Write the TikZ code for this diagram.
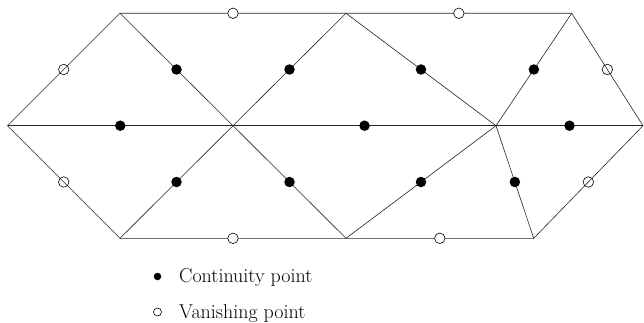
\documentclass[tikz,border=0pt]{standalone}
\usetikzlibrary{calc}
\begin{document}
\begin{tikzpicture}[x=1pt,y=-1pt,
  edge/.style={line width=0.6pt,black!85},
  fdot/.style={circle,fill=black,inner sep=0pt,minimum size=10.5pt},
  odot/.style={circle,draw=black,line width=0.6pt,inner sep=0pt,minimum size=10.5pt},
  wodot/.style={odot,fill=white},
  lfdot/.style={circle,fill=black,inner sep=0pt,minimum size=7.5pt},
  lodot/.style={circle,draw=black,line width=0.6pt,inner sep=0pt,minimum size=8pt},
  ltext/.style={anchor=base west,inner sep=0pt,font=\fontsize{20}{24}\selectfont}]
\useasboundingbox (0,0) rectangle (644,323);
% vertices
\coordinate (L) at (7.5,125.7);
\coordinate (T1) at (120,13.3);
\coordinate (T2) at (346,13.3);
\coordinate (T3) at (571.7,13.3);
\coordinate (R) at (643,125.7);
\coordinate (C1) at (233,125.7);
\coordinate (C2) at (496,125.7);
\coordinate (B1) at (120,238.3);
\coordinate (B2) at (346,238.3);
\coordinate (B3) at (533.7,238.3);
% edges
\draw[edge] (L) -- (T1) -- (T2) -- (T3) -- (R) -- (B3) -- (B2) -- (B1) -- cycle;
\draw[edge] (L) -- (C1) -- (C2) -- (R);
\draw[edge] (T1) -- (C1) -- (B2);
\draw[edge] (T2) -- (C1) -- (B1);
\draw[edge] (T2) -- (C2) -- (B2);
\draw[edge] (T3) -- (C2) -- (B3);
% continuity points
\node[fdot] (f1) at ($(T1)!0.5!(C1)$) {};
\node[fdot] (f2) at ($(T2)!0.5!(C1)$) {};
\node[fdot] (f3) at ($(T2)!0.5!(C2)$) {};
\node[fdot] (f4) at ($(T3)!0.5!(C2)$) {};
\node[fdot] (f5) at ($(L)!0.5!(C1)$) {};
\node[fdot] (f6) at ($(C1)!0.5!(C2)$) {};
\node[fdot] (f7) at ($(C2)!0.5!(R)$) {};
\node[fdot] (f8) at ($(B1)!0.5!(C1)$) {};
\node[fdot] (f9) at ($(B2)!0.5!(C1)$) {};
\node[fdot] (f10) at ($(B2)!0.5!(C2)$) {};
\node[fdot] (f11) at ($(B3)!0.5!(C2)$) {};
% vanishing points
\node[wodot] (o1) at ($(T1)!0.5!(T2)$) {};
\node[wodot] (o2) at ($(T2)!0.5!(T3)$) {};
\node[odot] (o3) at ($(L)!0.5!(T1)$) {};
\node[odot] (o4) at ($(T3)!0.5!(R)$) {};
\node[odot] (o5) at ($(L)!0.5!(B1)$) {};
\node[odot] (o6) at ($(R)!0.5!(B3)$) {};
\node[wodot] (o7) at ($(B1)!0.5!(B2)$) {};
\node[wodot] (o8) at ($(B2)!0.5!(B3)$) {};
% legend
\node[lfdot] (lf) at (157.5,276.5) {};
\node[ltext] (lft) at (179,282.5) {Continuity point};
\node[lodot] (lo) at (157.5,312) {};
\node[ltext] (lot) at (179,318) {Vanishing point};
\end{tikzpicture}
\end{document}
